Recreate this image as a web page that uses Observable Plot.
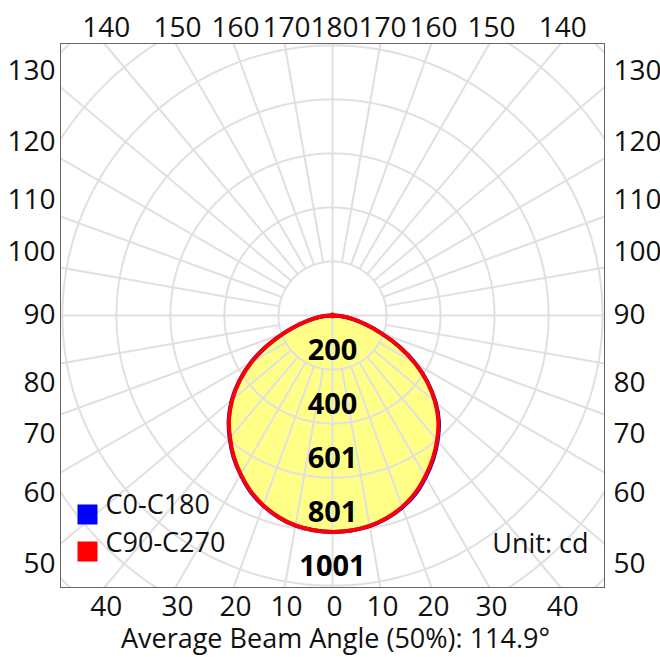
<!DOCTYPE html>
<html><head><meta charset="utf-8">
<script src="https://cdn.jsdelivr.net/npm/d3@7"></script>
<script src="https://cdn.jsdelivr.net/npm/@observablehq/plot@0.6"></script>
<style>body{margin:0;background:#fff}</style>
</head><body><div id="chart"></div>
<script>
// gamma angle from nadir (degrees) and luminous intensity (cd)
const gammaAngles   = [0, 5, 10, 15, 20, 25, 30, 35, 40, 45, 50, 55, 60, 65, 70, 75, 80, 85, 90];
const c0Intensity   = [802, 800, 793, 778, 757, 729, 691, 651, 606, 558, 498, 430, 355, 274, 193, 126, 74, 34, 0];
const c180Intensity = [802, 799, 791, 774, 750, 720, 681, 640, 593, 544, 487, 421, 349, 271, 193, 126, 74, 34, 0];
const c90Intensity  = [802, 800, 792, 777, 755, 726, 688, 648, 603, 555, 496, 428, 353, 273, 193, 126, 74, 34, 0];
const c270Intensity = [802, 799, 790, 773, 749, 718, 680, 638, 591, 542, 485, 420, 348, 271, 193, 126, 74, 34, 0];

const ringValues = [200.2, 400.4, 600.6, 800.8, 1001, 1201.2, 1401.4];
const ringLabels = ["200", "400", "601", "801", "1001"];
const topTickLabels = [140, 150, 160, 170, 180, 170, 160, 150, 140];
const bottomTickLabels = [40, 30, 20, 10, 0, 10, 20, 30, 40];
const sideTickLabels = [130, 120, 110, 100, 90, 80, 70, 60, 50];
const legendLabels = ["C0-C180", "C90-C270"];
const legendColors = ["#0000ff", "#ff0000"];
const unitLabel = "Unit: cd";
const caption = "Average Beam Angle (50%): 114.9°";

const D = 1008;            // half extent of the square frame, in cd
const rad = Math.PI / 180;
const gridColor = "#e0e0e0";
const font = "Open Sans";

function curve(leftVals, rightVals) {
  const pts = [];
  for (let i = gammaAngles.length - 1; i >= 0; i--) {
    const g = gammaAngles[i] * rad;
    pts.push({x: -leftVals[i] * Math.sin(g), y: -leftVals[i] * Math.cos(g)});
  }
  for (let i = 1; i < gammaAngles.length; i++) {
    const g = gammaAngles[i] * rad;
    pts.push({x: rightVals[i] * Math.sin(g), y: -rightVals[i] * Math.cos(g)});
  }
  return pts;
}
const redPts = curve(c270Intensity, c90Intensity);
const bluePts = curve(c180Intensity, c0Intensity);

// grid geometry
const ringPts = ringValues.flatMap(r => d3.range(0, 361, 2).map(a => ({ring: r, x: r * Math.sin(a * rad), y: r * Math.cos(a * rad)})));
const spokes = d3.range(0, 360, 10).map(a => {
  const r0 = a % 90 === 0 ? 0 : ringValues[0];
  const s = Math.sin(a * rad), c = Math.cos(a * rad);
  const r1 = D / Math.max(Math.abs(s), Math.abs(c));
  return {x1: r0 * s, y1: r0 * c, x2: r1 * s, y2: r1 * c};
});

const sideOf = i => (i < 4 ? -1 : i > 4 ? 1 : 0);
const topTicks = topTickLabels.map((v, i) => ({label: String(v), x: sideOf(i) * D * Math.tan((180 - v) * rad), y: D}));
const bottomTicks = bottomTickLabels.map((v, i) => ({label: String(v), x: sideOf(i) * D * Math.tan(v * rad), y: -D}));
const sideTicks = sideTickLabels.map(v => ({v, label: String(v), y: -D * Math.cos(v * rad) / Math.sin(v * rad)}));
const ringText = ringLabels.map((l, i) => ({label: l, x: 0, y: -ringValues[i]}));

const tickFont = {fontFamily: font, fontSize: 28, fill: "#111"};
const sideMarks = [];
for (const [filter, dy] of [[d => d.v > 90, -16], [d => d.v === 90, 0], [d => d.v < 90, 20]]) {
  const data = sideTicks.filter(filter);
  sideMarks.push(Plot.text(data, {x: -D, y: "y", text: "label", textAnchor: "end", dx: -5, dy, ...tickFont}));
  sideMarks.push(Plot.text(data, {x: D, y: "y", text: "label", textAnchor: "start", dx: 9, dy, ...tickFont}));
}

const chart = Plot.plot({
  width: 660,
  height: 657,
  marginTop: 43,
  marginLeft: 60,
  marginRight: 56,
  marginBottom: 70,
  x: {domain: [-D, D], axis: null},
  y: {domain: [-D, D], axis: null},
  style: {fontFamily: font, background: "white", overflow: "visible"},
  marks: [
    Plot.line(redPts, {x: "x", y: "y", fill: "#ffff88", stroke: "none", curve: "catmull-rom"}),
    Plot.line(ringPts, {x: "x", y: "y", z: "ring", stroke: gridColor, strokeWidth: 2, clip: true}),
    Plot.link(spokes, {x1: "x1", y1: "y1", x2: "x2", y2: "y2", stroke: gridColor, strokeWidth: 2}),
    Plot.frame({stroke: "#666", strokeWidth: 1}),
    Plot.line(bluePts, {x: "x", y: "y", stroke: legendColors[0], strokeWidth: 4, curve: "catmull-rom"}),
    Plot.line(redPts, {x: "x", y: "y", stroke: legendColors[1], strokeWidth: 4, curve: "catmull-rom"}),
    Plot.dot(redPts.filter(d => d.x === 0 && d.y === 0).slice(0, 1), {x: "x", y: "y", r: 3, fill: legendColors[1]}),
    Plot.text(ringText, {x: "x", y: "y", text: "label", dy: -19, fontFamily: font, fontSize: 29, fontWeight: "bold", fill: "#000"}),
    Plot.text(topTicks, {x: "x", y: "y", text: "label", dx: 2, dy: -15, ...tickFont}),
    Plot.text(bottomTicks, {x: "x", y: "y", text: "label", dx: 2, dy: 20, ...tickFont}),
    ...sideMarks,
    Plot.dot([legendLabels[0]], {frameAnchor: "bottom-left", dx: 27, dy: -73, symbol: "square", r: 11.28, fill: legendColors[0]}),
    Plot.dot([legendLabels[1]], {frameAnchor: "bottom-left", dx: 27, dy: -36, symbol: "square", r: 11.28, fill: legendColors[1]}),
    Plot.text([legendLabels[0]], {frameAnchor: "bottom-left", text: d => d, dx: 45, dy: -74, textAnchor: "start", fontFamily: font, fontSize: 27, fill: "#111"}),
    Plot.text([legendLabels[1]], {frameAnchor: "bottom-left", text: d => d, dx: 45, dy: -36, textAnchor: "start", fontFamily: font, fontSize: 27, fill: "#111"}),
    Plot.text([unitLabel], {frameAnchor: "bottom-right", text: d => d, dx: -16, dy: -35, textAnchor: "end", fontFamily: font, fontSize: 27, fill: "#111"}),
    Plot.text([caption], {frameAnchor: "bottom", text: d => d, dx: 3, dy: 60, fontFamily: font, fontSize: 27, fill: "#111"})
  ]
});
document.getElementById("chart").append(chart);
</script>
</body></html>
